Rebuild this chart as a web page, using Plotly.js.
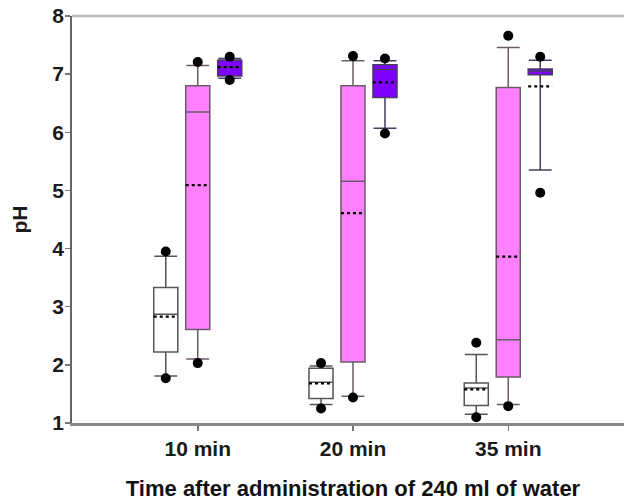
<!DOCTYPE html>
<html>
<head>
<meta charset="utf-8">
<script src="https://cdn.plot.ly/plotly-3.0.1.min.js"></script>
<style>
html, body { margin: 0; padding: 0; overflow: hidden; background: #fff; }
#chart { width: 640px; height: 501px; }
</style>
</head>
<body>
<div id="chart"></div>
<script>
// Categories
const categories = ['10 min', '20 min', '35 min'];

// Series 1 (white boxes)
const whiteQ1 = [2.22, 1.42, 1.30];
const whiteMedian = [2.87, 1.70, 1.60];
const whiteQ3 = [3.33, 1.94, 1.69];
const whiteLow = [1.81, 1.32, 1.15];
const whiteHigh = [3.87, 1.98, 2.18];
const whiteMean = [2.83, 1.68, 1.58];
const whiteMinPt = [1.77, 1.25, 1.10];
const whiteMaxPt = [3.95, 2.03, 2.38];

// Series 2 (magenta boxes)
const magQ1 = [2.61, 2.05, 1.79];
const magMedian = [6.35, 5.16, 2.43];
const magQ3 = [6.80, 6.80, 6.77];
const magLow = [2.10, 1.46, 1.32];
const magHigh = [7.15, 7.23, 7.46];
const magMean = [5.09, 4.61, 3.86];
const magMinPt = [2.03, 1.44, 1.29];
const magMaxPt = [7.21, 7.31, 7.66];

// Series 3 (purple boxes)
const purQ1 = [6.97, 6.60, 6.99];
const purMedian = [7.12, 7.08, 7.05];
const purQ3 = [7.24, 7.16, 7.09];
const purLow = [6.93, 6.07, 5.35];
const purHigh = [7.27, 7.23, 7.24];
const purMean = [7.12, 6.86, 6.79];
const purMinPt = [6.90, 5.98, 4.96];
const purMaxPt = [7.30, 7.27, 7.30];

// Tick labels
const yTicks = [1, 2, 3, 4, 5, 6, 7, 8];

// Layout constants
const boxWidth = 0.155;
const offsets = [-0.206, 0, 0.206];
const groupIdx = categories.map((c, i) => i);

const FONT = {family: 'Liberation Sans, Arial, sans-serif', size: 21, color: '#1a1a1a', weight: 'bold'};
const TITLEFONT = {family: 'Liberation Sans, Arial, sans-serif', size: 22, color: '#111111', weight: 'bold'};

const series = [
  {q1: whiteQ1, med: whiteMedian, q3: whiteQ3, lo: whiteLow, hi: whiteHigh, mean: whiteMean, minp: whiteMinPt, maxp: whiteMaxPt, fill: '#ffffff', line: '#555555'},
  {q1: magQ1, med: magMedian, q3: magQ3, lo: magLow, hi: magHigh, mean: magMean, minp: magMinPt, maxp: magMaxPt, fill: '#ff80ff', line: '#6a5a6a'},
  {q1: purQ1, med: purMedian, q3: purQ3, lo: purLow, hi: purHigh, mean: purMean, minp: purMinPt, maxp: purMaxPt, fill: '#8000ff', line: '#4a3a66'}
];

const traces = [];
series.forEach((s, k) => {
  const xs = groupIdx.map(i => i + offsets[k]);
  traces.push({
    type: 'box',
    x: xs,
    q1: s.q1, median: s.med, q3: s.q3,
    lowerfence: s.lo, upperfence: s.hi,
    width: boxWidth,
    whiskerwidth: 0.95,
    fillcolor: s.fill,
    line: {color: s.line, width: 1.5},
    boxpoints: false,
    hoverinfo: 'skip',
    showlegend: false
  });
});

// Mean lines (dotted)
series.forEach((s, k) => {
  const mx = [], my = [];
  groupIdx.forEach(i => {
    const c = i + offsets[k];
    mx.push(c - boxWidth / 2, c + boxWidth / 2, null);
    my.push(s.mean[i], s.mean[i], null);
  });
  traces.push({
    type: 'scatter', mode: 'lines', x: mx, y: my,
    line: {color: '#000000', width: 2.2, dash: 'dot'},
    hoverinfo: 'skip', showlegend: false
  });
});

// Extreme points
series.forEach((s, k) => {
  const px = [], py = [];
  groupIdx.forEach(i => {
    const c = i + offsets[k];
    px.push(c, c);
    py.push(s.minp[i], s.maxp[i]);
  });
  traces.push({
    type: 'scatter', mode: 'markers', x: px, y: py,
    marker: {color: '#000000', size: 10},
    hoverinfo: 'skip', showlegend: false
  });
});

const layout = {
  width: 640, height: 501,
  margin: {l: 72, r: 6, t: 16, b: 78},
  paper_bgcolor: '#ffffff', plot_bgcolor: '#ffffff',
  showlegend: false,
  xaxis: {
    range: [-0.81, 2.81],
    tickvals: groupIdx, ticktext: categories,
    ticks: 'outside', ticklen: 5, tickwidth: 1.5, tickcolor: '#777',
    showline: true, linecolor: '#888', linewidth: 2.5,
    showgrid: false, zeroline: false,
    tickfont: FONT,
    title: {text: 'Time after administration of 240 ml of water', font: TITLEFONT, standoff: 22}
  },
  yaxis: {
    range: [1, 8],
    tickvals: yTicks,
    ticks: 'outside', ticklen: 5, tickwidth: 1.5, tickcolor: '#777',
    showline: true, linecolor: '#666', linewidth: 1.8,
    showgrid: false, zeroline: false,
    tickfont: FONT,
    ticklabelstandoff: -3,
    title: {text: 'pH', font: FONT, standoff: 19}
  },
  shapes: [
    {type: 'line', xref: 'paper', yref: 'paper', x0: 0, x1: 1, y0: 1, y1: 1,
     line: {color: '#bbbbbb', width: 2.5}}
  ]
};

Plotly.newPlot('chart', traces, layout, {displayModeBar: false, staticPlot: true});
</script>
</body>
</html>
